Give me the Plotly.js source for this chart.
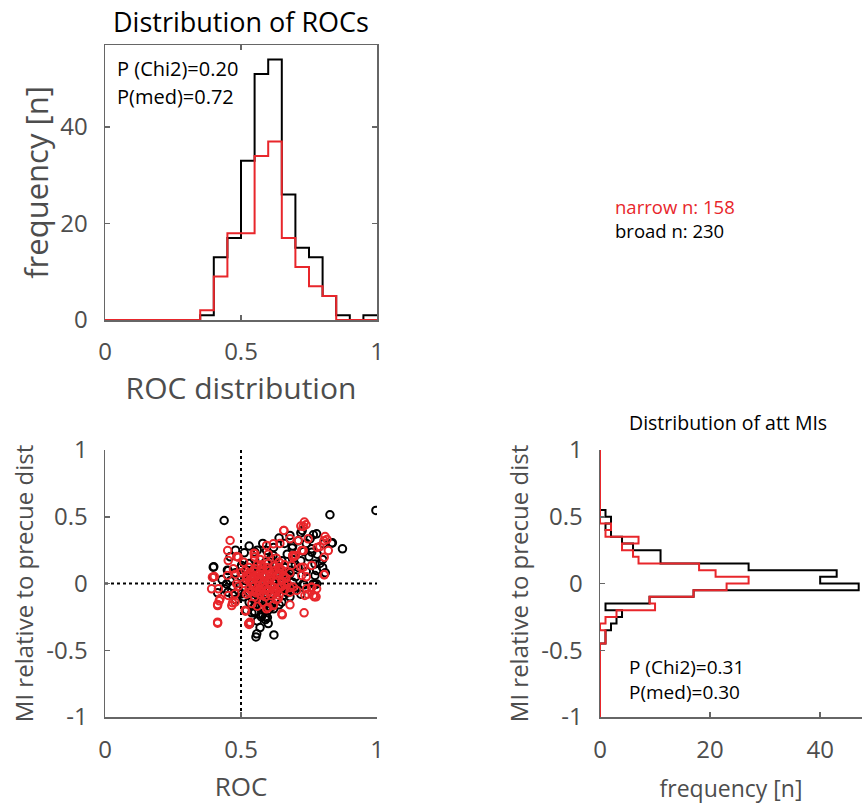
<!DOCTYPE html>
<html>
<head>
<meta charset="utf-8">
<script src="https://cdn.plot.ly/plotly-3.0.1.min.js"></script>
<style>html,body{margin:0;padding:0;background:#fff;}#plot{width:862px;height:805px;}</style>
</head>
<body>
<div id="plot"></div>
<script>
// ---------- DATA ----------
const rocEdges = [0,0.05,0.1,0.15,0.2,0.25,0.3,0.35,0.4,0.45,0.5,0.55,0.6,0.65,0.7,0.75,0.8,0.85,0.9,0.95,1];
const rocBroad  = [0,0,0,0,0,0,0,1,13,17,33,51,54,26,15,13,5,1,0,1];
const rocNarrow = [0,0,0,0,0,0,0,2,9,18,18,34,37,17,11,7,5,0,0,0];

const miEdges = [-1,-0.95,-0.9,-0.85,-0.8,-0.75,-0.7,-0.65,-0.6,-0.55,-0.5,-0.45,-0.4,-0.35,-0.3,-0.25,-0.2,-0.15,-0.1,-0.05,0,
  0.05,0.1,0.15,0.2,0.25,0.3,0.35,0.4,0.45,0.5,0.55,0.6,0.65,0.7,0.75,0.8,0.85,0.9,0.95,1];
const miBroad  = [0,0,0,0,0,0,0,0,0,0,0,1,1,2,3,4,1,9,17,47,40,43,27,11,11,6,4,2,1,2,1,0,0,0,0,0,0,0,0,0];
const miNarrow = [0,0,0,0,0,0,0,0,0,0,0,1,1,0,1,3,10,9,17,23,27,21,18,7,6,4,7,1,2,0,0,0,0,0,0,0,0,0,0,0];

const broadROC = [0.996,0.827,0.438,0.873,0.836,0.766,0.725,0.72,0.40,0.414,0.555,0.621,0.60,0.59,0.575,0.55,0.732,0.772,0.512,0.453,
  0.398,0.551,0.398,0.447,0.502,0.551,0.533,0.558,0.452,0.502,
  0.594,0.688,0.754,0.76,0.772,0.772,0.729,0.766,0.656,0.686,0.597,0.582,0.68,0.618,0.692,
  0.833,0.778,0.803,0.79,0.80,0.81,0.778,0.778,
  0.50,0.52,0.54,0.56,0.58,0.60,0.62,0.64,0.66,0.68,
  0.49,0.51,0.53,0.55,0.57,0.59,0.61,0.63,0.65,0.67,
  0.50,0.53,0.55,0.57,0.59,0.61,0.63,0.65,0.67,0.69,
  0.70,0.71,0.72,0.73,0.74,0.75,0.70,0.72,0.69,0.71,
  0.46,0.47,0.48,0.45,0.44,0.43,0.47,0.48,0.46,0.48,
  0.52,0.54,0.56,0.58,0.57,0.60,0.53,0.56,0.58,0.62,
  0.64,0.66,0.68,0.74,0.76,0.78,0.80,0.62,0.58,0.56,0.60,0.63,0.66,0.54,
  0.51,0.53,0.55,0.57,0.59,0.61,0.63,0.65,0.67,0.69,
  0.52,0.54,0.56,0.58,0.60,0.62,0.64,0.66,0.68,0.70,
  0.55,0.57,0.59,0.61,0.54,0.56,0.58,0.60,0.62,0.64];
const broadMI = [0.547,0.515,0.472,0.26,0.305,0.365,0.397,0.38,0.125,-0.07,-0.40,-0.385,-0.30,-0.27,-0.25,-0.22,-0.01,-0.008,0.23,0.097,
  0.122,0.235,0.047,-0.003,0.135,-0.165,-0.30,-0.377,-0.065,-0.077,
  0.247,0.265,0.335,0.235,0.147,0.06,-0.003,-0.003,-0.09,-0.052,-0.255,-0.19,0.072,0.21,0.21,
  0.302,0.372,0.297,0.15,0.12,0.08,0.097,-0.003,
  0.05,0.02,-0.03,0.08,-0.06,0.03,-0.08,0.05,-0.02,0.10,
  -0.05,-0.10,-0.14,-0.12,-0.17,-0.13,-0.15,-0.11,-0.14,-0.07,
  0.12,0.15,0.18,0.13,0.16,0.19,0.14,0.17,0.22,0.18,
  0.05,0.12,0.17,0.24,0.09,0.20,-0.03,-0.08,0.28,0.32,
  0.02,-0.02,0.08,0.10,-0.04,0.03,-0.09,-0.12,0.20,0.25,
  -0.20,-0.22,-0.28,-0.23,-0.33,-0.20,0.28,0.25,0.30,0.27,
  0.34,0.30,0.36,0.30,0.26,0.22,0.18,0.00,0.01,-0.01,-0.04,0.08,0.12,0.10,
  -0.03,0.07,-0.07,0.04,-0.09,0.09,-0.04,0.02,0.06,0.01,
  0.10,-0.11,-0.09,-0.18,-0.06,-0.19,-0.16,0.08,-0.10,0.14,
  -0.21,-0.12,-0.25,-0.18,0.05,-0.04,0.06,-0.13,0.03,-0.02];

const narrowROC = [0.739,0.729,0.657,0.46,0.451,0.414,0.732,0.652,0.53,0.517,0.392,0.402,0.414,0.42,0.469,0.806,0.821,0.805,0.747,0.68,
  0.643,0.594,0.548,0.484,0.68,0.77,0.745,0.76,0.74,0.72,0.699,0.729,0.78,
  0.49,0.551,0.453,0.472,0.395,0.417,0.45,0.48,0.423,0.414,0.453,0.478,0.466,0.478,0.515,0.414,0.533,0.528,0.484,0.515,0.527,0.564,
  0.658,0.733,0.72,0.711,0.723,0.692,0.686,0.729,0.76,0.723,0.741,0.76,0.766,0.735,0.705,0.68,0.692,0.65,0.637,0.619,0.594,0.69,0.70,0.643,0.619,
  0.809,0.816,0.79,0.806,0.806,0.778,0.776,
  0.51,0.52,0.53,0.54,0.55,0.56,0.57,0.58,0.59,0.60,
  0.61,0.62,0.63,0.64,0.65,0.66,0.67,0.68,0.55,0.57,
  0.59,0.61,0.63,0.53,0.56,0.58,0.60,0.62,0.64,0.66,
  0.52,0.54,0.56,0.58,0.60,0.62,0.50,0.49,0.57,0.61,
  0.54,0.59,0.63,0.65,0.55,0.58,0.60,0.62,0.52,0.56,
  0.64,0.66,0.68,0.57,0.60,0.55,0.51,0.63,
  0.53,0.545,0.56,0.575,0.59,0.605,0.62,0.635,0.65,0.665,
  0.535,0.55,0.565,0.58,0.595,0.61,0.625,0.64,0.655,0.525,
  0.54,0.555,0.57,0.585,0.60,0.615,0.63,0.645,0.66,0.575];
const narrowMI = [0.44,0.427,0.397,0.322,0.247,-0.297,-0.22,-0.235,-0.307,-0.207,-0.04,0.052,-0.157,-0.13,-0.145,0.065,0.247,0.32,0.335,0.335,
  0.30,0.285,0.227,0.202,-0.16,-0.10,-0.08,-0.03,0.05,0.12,0.21,0.247,0.27,
  0.197,0.222,0.172,0.11,0.047,-0.04,0.06,0.07,-0.115,-0.165,-0.09,-0.077,-0.165,-0.14,-0.202,-0.29,-0.29,-0.30,-0.003,0.097,-0.065,-0.015,
  0.397,0.46,0.43,0.322,0.247,0.197,0.135,0.122,0.135,0.06,-0.04,-0.027,-0.09,-0.09,-0.052,-0.065,-0.027,-0.227,-0.115,-0.165,-0.19,0.21,0.21,0.11,0.297,
  0.352,0.33,0.277,0.197,0.067,-0.04,-0.10,
  0.00,0.06,-0.04,0.03,0.09,-0.06,0.01,0.07,-0.03,0.10,
  0.04,-0.05,0.02,0.08,-0.02,0.05,0.00,0.08,-0.10,-0.08,
  -0.10,-0.09,-0.12,0.12,0.14,0.12,0.15,0.13,0.16,0.14,
  -0.08,-0.15,-0.17,-0.14,-0.18,-0.16,0.08,-0.02,0.04,-0.01,
  0.00,0.05,-0.06,0.10,0.05,-0.01,0.01,0.09,0.03,0.02,
  -0.09,-0.05,-0.03,0.18,0.22,0.20,0.16,0.19,
  0.02,-0.02,0.04,-0.04,0.06,0.03,-0.03,0.06,0.02,0.04,
  0.08,0.11,0.07,0.10,0.12,0.07,0.10,0.12,0.06,0.05,
  -0.06,-0.07,-0.05,-0.08,-0.06,-0.07,-0.05,-0.03,-0.01,0.14];

const statsTop = ['P (Chi2)=0.20', 'P(med)=0.72'];
const statsRight = ['P (Chi2)=0.31', 'P(med)=0.30'];
const legendLines = ['narrow n: 158', 'broad n: 230'];

// ---------- STYLE ----------
const W = 862, H = 805;
const RED = '#e8262b', BLACK = '#000000';
const AX = '#666666', TXT = '#4d4d4d';
const FONT = 'Open Sans, Noto Sans, sans-serif';
const px = v => v / W;
const py = v => 1 - v / H;

const stepY = c => c.concat([c[c.length - 1]]);

const traces = [
  {x: rocEdges, y: stepY(rocBroad), xaxis: 'x', yaxis: 'y', mode: 'lines', line: {shape: 'hv', color: BLACK, width: 2}, hoverinfo: 'skip'},
  {x: rocEdges, y: stepY(rocNarrow), xaxis: 'x', yaxis: 'y', mode: 'lines', line: {shape: 'hv', color: RED, width: 2}, hoverinfo: 'skip'},
  {x: broadROC, y: broadMI, xaxis: 'x2', yaxis: 'y2', mode: 'markers', marker: {symbol: 'circle-open', size: 7.5, color: BLACK, line: {width: 2, color: BLACK}}},
  {x: narrowROC, y: narrowMI, xaxis: 'x2', yaxis: 'y2', mode: 'markers', marker: {symbol: 'circle-open', size: 7.5, color: RED, line: {width: 2, color: RED}}},
  {x: stepY(miBroad), y: miEdges, xaxis: 'x3', yaxis: 'y3', mode: 'lines', line: {shape: 'vh', color: BLACK, width: 2}, hoverinfo: 'skip'},
  {x: stepY(miNarrow), y: miEdges, xaxis: 'x3', yaxis: 'y3', mode: 'lines', line: {shape: 'vh', color: RED, width: 2}, hoverinfo: 'skip'}
];

const baseAxis = {
  showgrid: false, zeroline: false, showline: true, linecolor: AX, linewidth: 1.5,
  ticks: 'inside', ticklen: 5, tickcolor: AX, tickwidth: 1.5,
  tickfont: {family: FONT, size: 24, color: TXT}, fixedrange: true
};
const bigTitle = {family: FONT, size: 31, color: TXT};
const midTitle = {family: FONT, size: 24, color: TXT};

const layout = {
  width: W, height: H, margin: {l: 0, r: 0, t: 0, b: 0},
  paper_bgcolor: '#fff', plot_bgcolor: '#fff', showlegend: false,
  font: {family: FONT},
  xaxis: Object.assign({}, baseAxis, {domain: [px(105), px(377)], range: [0, 1], tickvals: [0, 0.5, 1], ticktext: ['0', '0.5', '1'],
    mirror: 'ticks', anchor: 'y', ticklabelstandoff: 10, title: {text: 'ROC distribution', font: {family: FONT, size: 30, color: TXT}, standoff: 4}}),
  yaxis: Object.assign({}, baseAxis, {domain: [py(320), py(45)], range: [0, 57], tickvals: [0, 20, 40],
    mirror: 'ticks', anchor: 'x', ticklabelstandoff: 11, title: {text: 'frequency [n]', font: bigTitle, standoff: 2}}),
  xaxis2: Object.assign({}, baseAxis, {domain: [px(105), px(377)], range: [0, 1], tickvals: [0, 0.5, 1], ticktext: ['0', '0.5', '1'],
    anchor: 'y2', ticklabelstandoff: 11, title: {text: 'ROC', font: {family: FONT, size: 26, color: TXT}, standoff: 13}}),
  yaxis2: Object.assign({}, baseAxis, {domain: [py(717), py(450)], range: [-1, 1], tickvals: [-1, -0.5, 0, 0.5, 1], ticktext: ['-1', '-0.5', '0', '0.5', '1'],
    anchor: 'x2', ticklabelstandoff: 11, title: {text: 'MI relative to precue dist', font: midTitle, standoff: 6}}),
  xaxis3: Object.assign({}, baseAxis, {domain: [px(600), 1], range: [0, 47.6], tickvals: [0, 20, 40],
    anchor: 'y3', ticklabelstandoff: 11, title: {text: 'frequency [n]', font: {family: FONT, size: 23, color: TXT}, standoff: 16}}),
  yaxis3: Object.assign({}, baseAxis, {domain: [py(717), py(450)], range: [-1, 1], tickvals: [-1, -0.5, 0, 0.5, 1], ticktext: ['-1', '-0.5', '0', '0.5', '1'],
    anchor: 'x3', ticklabelstandoff: 11, title: {text: 'MI relative to precue dist', font: midTitle, standoff: 6}}),
  shapes: [
    {type: 'line', xref: 'x2', yref: 'y2', x0: 0.5, x1: 0.5, y0: -1, y1: 1, line: {color: BLACK, width: 2, dash: 'dot'}, layer: 'below'},
    {type: 'line', xref: 'x2', yref: 'y2', x0: 0, x1: 1, y0: 0, y1: 0, line: {color: BLACK, width: 2, dash: 'dot'}, layer: 'below'}
  ],
  annotations: [
    {text: 'Distribution of ROCs', xref: 'paper', yref: 'paper', x: px(241), y: py(22), xanchor: 'center', yanchor: 'middle', showarrow: false,
      font: {family: FONT, size: 27, color: BLACK}},
    {text: statsTop[0], xref: 'paper', yref: 'paper', x: px(115), y: py(68), xanchor: 'left', yanchor: 'middle', showarrow: false,
      font: {family: FONT, size: 20, color: BLACK}},
    {text: statsTop[1], xref: 'paper', yref: 'paper', x: px(115), y: py(96), xanchor: 'left', yanchor: 'middle', showarrow: false,
      font: {family: FONT, size: 20, color: BLACK}},
    {text: legendLines[0] + '<br>' + '<span style="color:' + BLACK + '">' + legendLines[1] + '</span>', xref: 'paper', yref: 'paper',
      x: px(613), y: py(218.5), xanchor: 'left', yanchor: 'middle', align: 'left', showarrow: false,
      font: {family: FONT, size: 18.5, color: RED}},
    {text: 'Distribution of att MIs', xref: 'paper', yref: 'paper', x: px(728), y: py(423), xanchor: 'center', yanchor: 'middle', showarrow: false,
      font: {family: FONT, size: 19.5, color: BLACK}},
    {text: statsRight.join('<br>'), xref: 'paper', yref: 'paper', x: px(627), y: py(679), xanchor: 'left', yanchor: 'middle', align: 'left', showarrow: false,
      font: {family: FONT, size: 19, color: BLACK}}
  ]
};

Plotly.newPlot('plot', traces, layout, {staticPlot: true, displayModeBar: false});
</script>
</body>
</html>
